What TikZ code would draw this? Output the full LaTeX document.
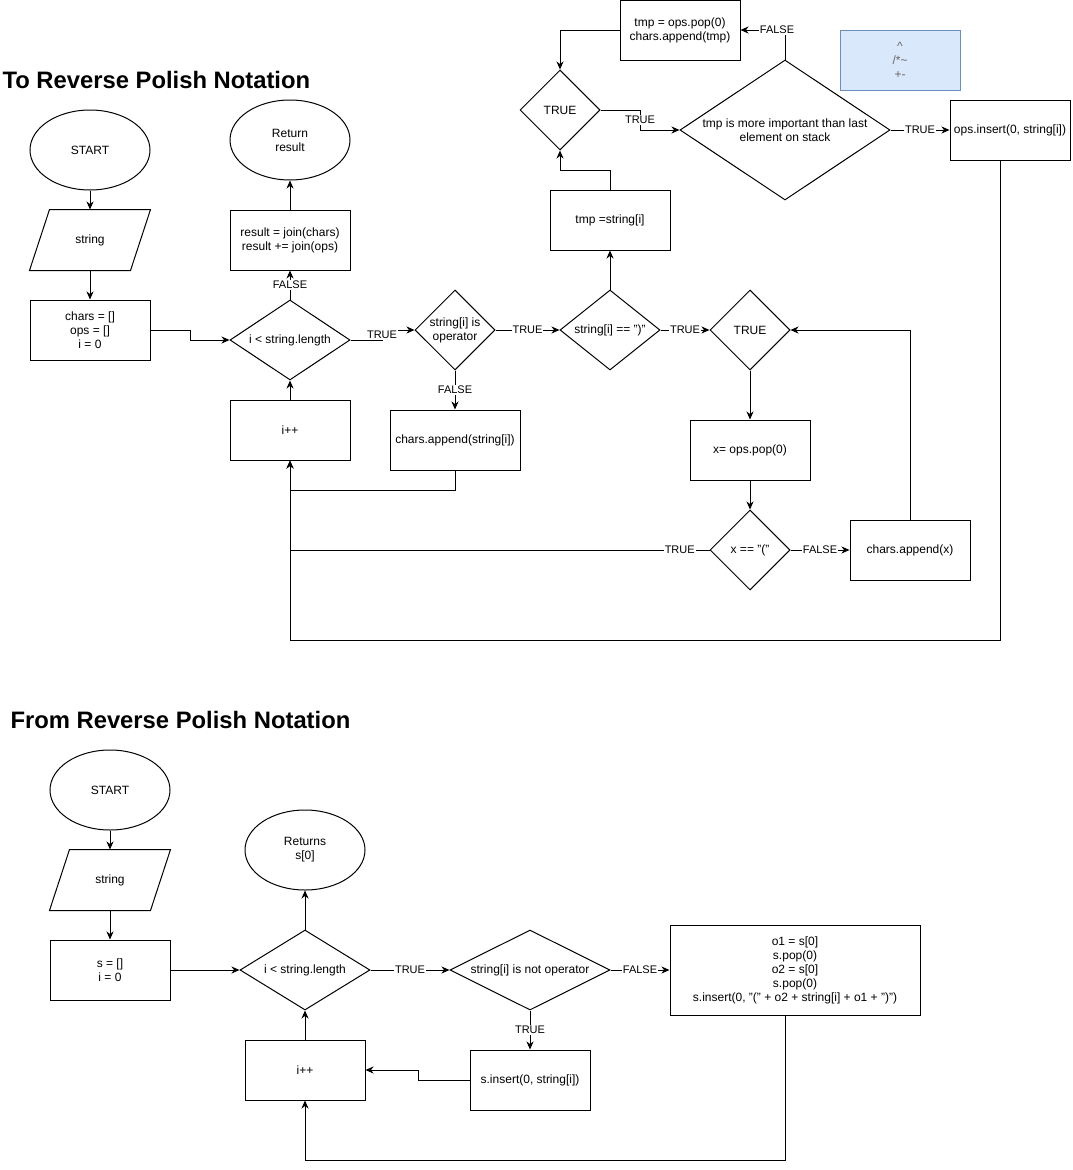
\documentclass[tikz,border=0pt]{standalone}
\usepackage{fontspec}
\setmainfont{Liberation Sans}
\usetikzlibrary{shapes.geometric, arrows.meta}
\definecolor{noteline}{RGB}{108,142,191}
\definecolor{notefill}{RGB}{218,232,252}
\begin{document}
\begin{tikzpicture}[x=1pt,y=-1pt, line width=1pt,
 every node/.style={font=\fontsize{12}{14}\selectfont, align=center},
 box/.style={draw, rectangle, minimum width=120pt, minimum height=60pt, inner sep=1pt},
 term/.style={draw, ellipse, minimum width=120pt, minimum height=80pt, inner sep=0pt},
 dia/.style={draw, diamond, inner sep=0pt},
 ghost/.style={rectangle, minimum width=120pt, minimum height=60pt, inner sep=0pt},
 arr/.style={-{Stealth[length=8pt,width=7pt,inset=2.5pt]}},
 lbl/.style={fill=white, inner sep=1pt, font=\fontsize{11}{13}\selectfont},
 ttl/.style={font=\fontsize{23.8}{28}\selectfont\bfseries, anchor=west, inner sep=0pt}
]
\useasboundingbox (0,0) rectangle (1072,1170);

% ================= TOP =================
\node[ttl] (title1) at (2,80) {To Reverse Polish Notation};

\node[term] (start1) at (90,150) {START};
\node[ghost] (str1) at (90,240) {string};
\draw ([xshift=20pt]str1.north west) -- (str1.north east) -- ([xshift=-20pt]str1.south east) -- (str1.south west) -- cycle;
\node[box] (init1) at (90,330) {chars = []\\ops = []\\i = 0};

\node[dia, minimum width=120pt, minimum height=80pt] (c1) at (290,340) {};
\node (c1t) at (c1) {i < string.length};
\node[box] (res) at (290,240) {result = join(chars)\\result += join(ops)};
\node[term] (ret1) at (290,140) {Return\\result};
\node[box] (inc1) at (290,430) {i++};

\node[dia, minimum width=80pt, minimum height=80pt] (op) at (455,330) {};
\node (opt) at (op) {string[i] is\\operator};
\node[box, minimum width=130pt] (app1) at (455,440) {chars.append(string[i])};

\node[dia, minimum width=100pt, minimum height=80pt] (eq) at (610,330) {};
\node (eqt) at (eq) {string[i] == ")"};
\node[box] (tmp1) at (610,220) {tmp =string[i]};

\node[dia, minimum width=80pt, minimum height=80pt] (tr1) at (560,110) {};
\node (tr1t) at (tr1) {TRUE};
\node[box] (pop1) at (680,30) {tmp = ops.pop(0)\\chars.append(tmp)};

\node[dia, minimum width=210pt, minimum height=140pt] (big) at (785,130) {};
\node (bigt) at (big) {tmp is more important than last\\element on stack};
\node[box] (ins) at (1010,130) {ops.insert(0, string[i])};

\node[draw=noteline, fill=notefill, text=black!60, minimum width=120pt, minimum height=60pt, inner sep=0pt] (note) at (900,60) {\textasciicircum\\/*\textasciitilde\\+-};

\node[dia, minimum width=80pt, minimum height=80pt] (tr2) at (750,330) {};
\node (tr2t) at (tr2) {TRUE};
\node[box] (xpop) at (750,450) {x= ops.pop(0)};
\node[dia, minimum width=80pt, minimum height=80pt] (xeq) at (750,550) {};
\node (xeqt) at (xeq) {x == "("};
\node[box] (appx) at (910,550) {chars.append(x)};
\coordinate (j1) at (290,550);

\draw[arr] (start1) -- (str1);
\draw[arr] (str1) -- (init1);
\draw[arr] (init1.east) -- (190,330) -- (190,340) -- (c1.west);
\draw[arr] (c1.north) -- node[lbl]{FALSE} (res.south);
\draw[arr] (res) -- (ret1);
\draw[arr] (inc1) -- (c1);
\draw[arr] (c1.east) -- (382,340) -- node[lbl]{TRUE} (382,330) -- (op.west);
\draw[arr] (op.south) -- node[lbl]{FALSE} (app1.north);
\draw[arr] (app1.south) -- (455,490) -- (290,490) -- (inc1.south);
\draw[arr] (op.east) -- node[lbl]{TRUE} (eq.west);
\draw[arr] (eq.north) -- (tmp1.south);
\draw[arr] (tmp1.north) -- (610,170) -- (560,170) -- (tr1.south);
\draw[arr] (pop1.west) -- (560,30) -- (tr1.north);
\draw[arr] (tr1.east) -- (640,110) -- node[lbl]{TRUE} (640,130) -- (big.west);
\draw[arr] (big.north) -- (785,30) -- (pop1.east);
\node[lbl] (lf1) at (777,30) {FALSE};
\draw[arr] (big.east) -- node[lbl]{TRUE} (ins.west);
\draw[arr] ([xshift=-10pt]ins.south) -- (1000,640) -- (290,640) -- (inc1.south);
\draw[arr] (eq.east) -- node[lbl]{TRUE} (tr2.west);
\draw[arr] (tr2.south) -- (xpop.north);
\draw[arr] (xpop.south) -- (xeq.north);
\draw[arr] (xeq.east) -- node[lbl]{FALSE} (appx.west);
\draw[arr] (appx.north) -- (910,330) -- (tr2.east);
\draw (xeq.west) -- node[lbl, pos=0.071]{TRUE} (j1);

% ================= BOTTOM =================
\node[ttl] (title2) at (10,720) {From Reverse Polish Notation};

\node[term] (start2) at (110,790) {START};
\node[ghost] (str2) at (110,880) {string};
\draw ([xshift=20pt]str2.north west) -- (str2.north east) -- ([xshift=-20pt]str2.south east) -- (str2.south west) -- cycle;
\node[box] (init2) at (110,970) {s = []\\i = 0};

\node[dia, minimum width=130pt, minimum height=80pt] (c2) at (305,970) {};
\node (c2t) at (c2) {i < string.length};
\node[term] (ret2) at (305,850) {Returns\\s[0]};
\node[box] (inc2) at (305,1070) {i++};

\node[dia, minimum width=160pt, minimum height=80pt] (nop) at (530,970) {};
\node (nopt) at (nop) {string[i] is not operator};
\node[box, minimum width=250pt, minimum height=90pt] (bigbox) at (795,970) {o1 = s[0]\\s.pop(0)\\o2 = s[0]\\s.pop(0)\\s.insert(0, "(" + o2 + string[i] + o1 + ")")};
\node[box] (sins) at (530,1080) {s.insert(0, string[i])};

\draw[arr] (start2) -- (str2);
\draw[arr] (str2) -- (init2);
\draw[arr] (init2.east) -- (c2.west);
\draw[arr] (c2.north) -- (ret2.south);
\draw[arr] (inc2) -- (c2);
\draw[arr] (c2.east) -- node[lbl]{TRUE} (nop.west);
\draw[arr] (nop.east) -- node[lbl]{FALSE} (bigbox.west);
\draw[arr] (nop.south) -- node[lbl]{TRUE} (sins.north);
\draw[arr] (sins.west) -- (418,1080) -- (418,1070) -- (inc2.east);
\draw[arr] ([xshift=-10pt]bigbox.south) -- (785,1160) -- (305,1160) -- (inc2.south);
\end{tikzpicture}
\end{document}
